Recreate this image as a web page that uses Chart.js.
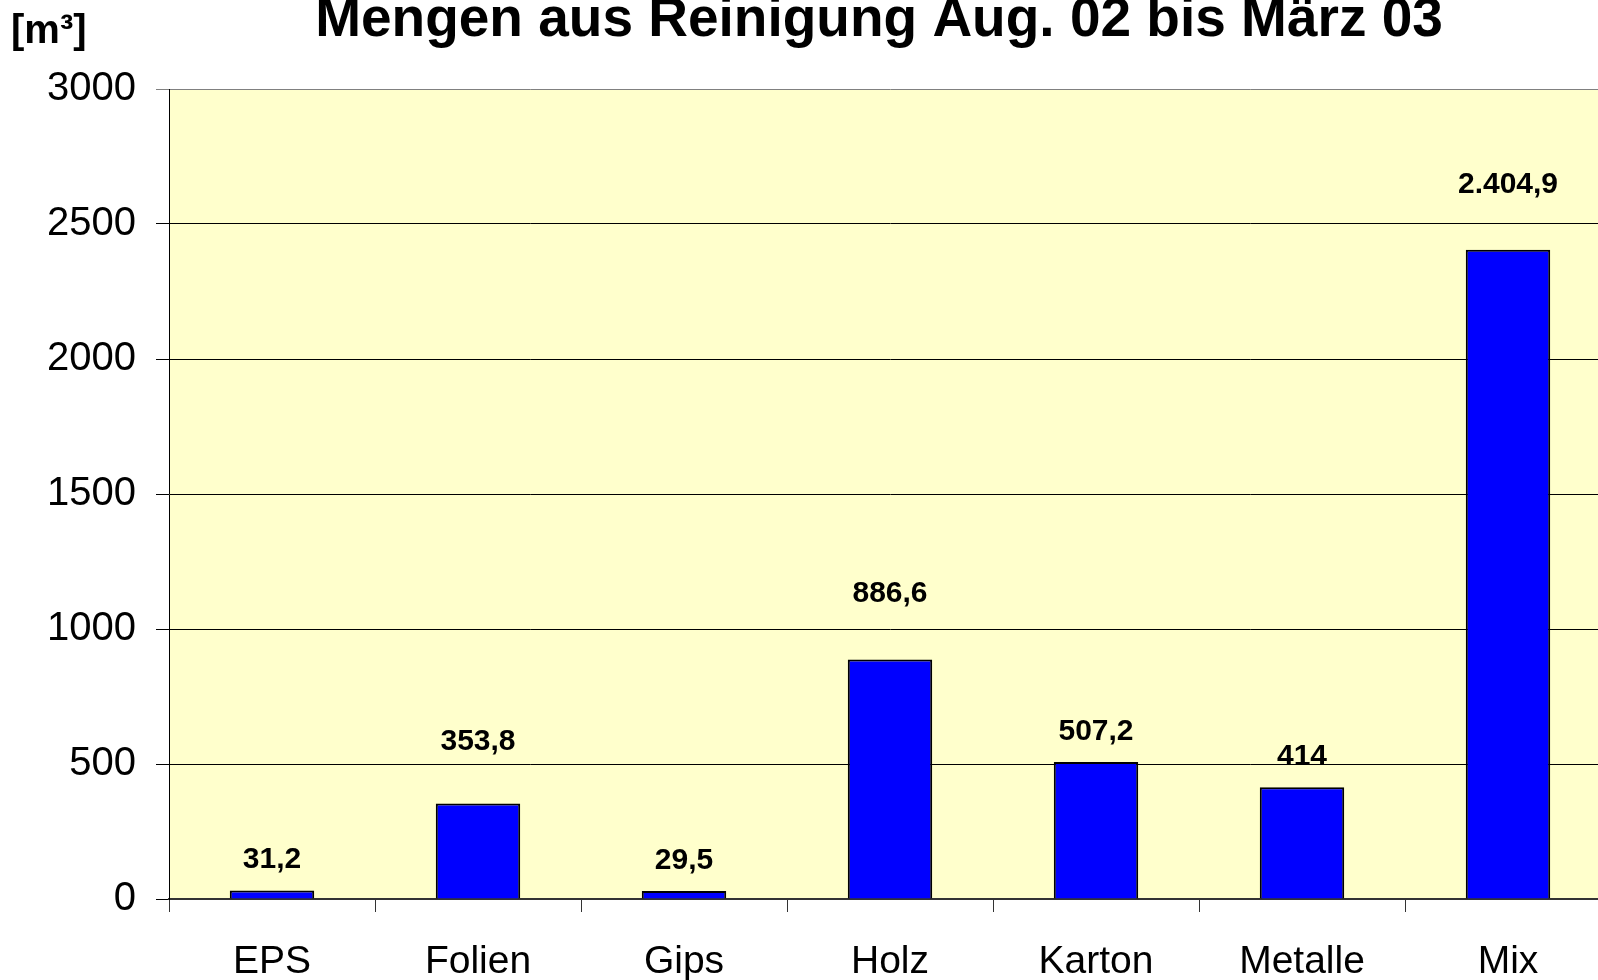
<!DOCTYPE html>
<html lang="de">
<head>
    <meta charset="UTF-8">
    <title>Mengen aus Reinigung Aug. 02 bis März 03</title>
    <script src="https://cdn.jsdelivr.net/npm/chart.js"></script>
    <style>
        html, body {
            margin: 0;
            padding: 0;
            background: #ffffff;
            overflow: hidden;
        }
        .chart-box {
            position: relative;
            width: 1640px;  /* plot runs past the right edge, like the original */
            height: 980px;
        }
    </style>
</head>
<body>
    <div class="chart-box">
        <canvas id="mengen-chart"></canvas>
    </div>

    <script>
        // data
        const categories = ['EPS', 'Folien', 'Gips', 'Holz', 'Karton', 'Metalle', 'Mix'];
        const mengen = [31.2, 353.8, 29.5, 886.6, 507.2, 414, 2404.9];
        const yTicks = [0, 500, 1000, 1500, 2000, 2500, 3000];

        // how far each value label sits above its bar (px)
        const labelLift = [31, 62, 30, 66, 30, 30, 65];

        const FONT = "'Liberation Sans', Arial, Helvetica, sans-serif";

        // 2404.9 -> "2.404,9"
        function formatDe(v) {
            const parts = String(v).split('.');
            const intPart = parts[0].replace(/\B(?=(\d{3})+(?!\d))/g, '.');
            return parts.length > 1 ? intPart + ',' + parts[1] : intPart;
        }

        // yellow plot background
        const plotBackground = {
            id: 'plotBackground',
            beforeDraw(chart) {
                const { ctx, chartArea } = chart;
                ctx.save();
                ctx.fillStyle = '#ffffcc';
                ctx.fillRect(chartArea.left, chartArea.top,
                    chartArea.right - chartArea.left, chartArea.bottom - chartArea.top);
                ctx.restore();
            }
        };

        // value labels above bars
        const valueLabels = {
            id: 'valueLabels',
            afterDatasetsDraw(chart) {
                const { ctx } = chart;
                const meta = chart.getDatasetMeta(0);
                ctx.save();
                ctx.font = 'bold 30px ' + FONT;
                ctx.fillStyle = '#000';
                ctx.textAlign = 'center';
                ctx.textBaseline = 'middle';
                meta.data.forEach((bar, i) => {
                    ctx.fillText(formatDe(mengen[i]), bar.x, bar.y - labelLift[i]);
                });
                ctx.restore();
            }
        };

        // title and unit in the top strip
        const headerText = {
            id: 'headerText',
            afterDraw(chart) {
                const { ctx } = chart;
                ctx.save();
                ctx.fillStyle = '#000';
                ctx.textBaseline = 'alphabetic';
                ctx.font = 'bold 55px ' + FONT;
                ctx.textAlign = 'center';
                ctx.fillText('Mengen aus Reinigung Aug. 02 bis März 03', 879, 36);
                ctx.font = 'bold 40px ' + FONT;
                ctx.textAlign = 'left';
                ctx.fillText('[m³]', 11, 43);
                ctx.restore();
            }
        };

        const ctx = document.getElementById('mengen-chart').getContext('2d');
        const mengenChart = new Chart(ctx, {
            type: 'bar',
            data: {
                labels: categories,
                datasets: [{
                    data: mengen,
                    backgroundColor: '#0000ff',
                    borderColor: '#000000',
                    borderWidth: 2,
                    categoryPercentage: 1.0,
                    barPercentage: 0.41,
                }],
            },
            options: {
                responsive: true,
                maintainAspectRatio: false,
                animation: false,
                layout: {
                    padding: { top: 89, right: 29, left: 0, bottom: 0 }
                },
                plugins: {
                    legend: { display: false },
                    tooltip: { enabled: false },
                    title: { display: false },
                },
                scales: {
                    x: {
                        grid: {
                            offset: true,
                            drawOnChartArea: false,
                            tickLength: 13,
                            color: '#333333',
                        },
                        border: { color: '#333333', width: 2 },
                        ticks: {
                            color: '#000',
                            padding: 27,
                            maxRotation: 0,
                            font: { family: FONT, size: 39 },
                        },
                        afterFit(scale) { scale.height = 81; },
                    },
                    y: {
                        min: 0,
                        max: 3000,
                        afterBuildTicks(scale) {
                            scale.ticks = yTicks.map(v => ({ value: v }));
                        },
                        grid: {
                            tickLength: 13,
                            color: ctx => ctx.tick && ctx.tick.value === 3000 ? '#808080' : '#000000',
                        },
                        border: { color: '#000000', width: 1 },
                        ticks: {
                            color: '#000',
                            padding: 20,
                            font: { family: FONT, size: 40 },
                            callback: v => String(v),
                        },
                        afterFit(scale) { scale.width = 169; },
                    },
                },
            },
            plugins: [plotBackground, valueLabels, headerText],
        });
    </script>
</body>
</html>
